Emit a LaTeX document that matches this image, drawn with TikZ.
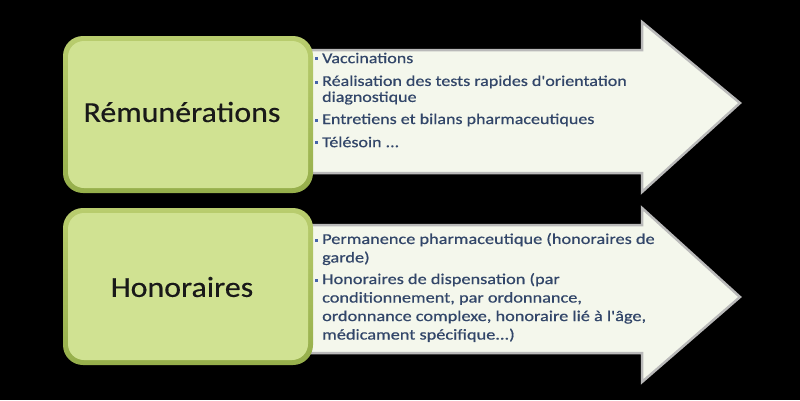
\documentclass[tikz,border=0pt]{standalone}
\usepackage{fontspec}
\setmainfont{Carlito}
\newfontfamily\itemfont[FakeStretch=1.2,FakeBold=0.6,Ligatures=TeXOff]{Carlito}
\newfontfamily\botfont[FakeStretch=1.22,FakeBold=0.6,Ligatures=TeXOff]{Carlito}
\newfontfamily\bigfont[FakeStretch=1.1,FakeBold=0.4]{Carlito}
\definecolor{boxfill}{RGB}{208,226,146}
\definecolor{boxedge}{RGB}{150,175,75}
\definecolor{boxlight}{RGB}{185,205,110}
\definecolor{arrfill}{RGB}{244,247,236}
\definecolor{arredge}{RGB}{185,185,185}
\definecolor{txt}{RGB}{50,70,105}
\definecolor{bul}{RGB}{70,100,170}
\begin{document}
\begin{tikzpicture}[x=1pt,y=-1pt,
  arrowshape/.style={fill=arrfill,draw=arredge,line width=2.5pt,line join=miter},
  outerbox/.style={top color=boxlight,bottom color=boxedge,rounded corners=20pt},
  innerbox/.style={fill=boxfill,rounded corners=16pt},
  boxtext/.style={inner sep=0pt,text=black!90,font=\bigfont\fontsize{29}{32}\selectfont},
  itemtop/.style={anchor=west,inner sep=0pt,align=left,text=txt,font=\itemfont\fontsize{15}{16}\selectfont},
  itembot/.style={anchor=west,inner sep=0pt,align=left,text=txt,font=\botfont\fontsize{15}{18.5}\selectfont},
  bullet/.style={fill=bul,minimum size=3pt,inner sep=0pt}]
\fill[black] (0,0) rectangle (800,400);
\useasboundingbox (0,0) rectangle (800,400);
% top arrow
\draw[arrowshape] (300,50) -- (642,50) -- (642,22) -- (740,103) -- (642,192) -- (642,173) -- (300,173) -- cycle;
% bottom arrow
\draw[arrowshape] (300,225) -- (642,225) -- (642,208) -- (740,297) -- (642,382) -- (642,353) -- (300,353) -- cycle;
% boxes
\shade[outerbox] (63,36) rectangle (313,193);
\fill[innerbox] (68,41) rectangle (308,188);
\shade[outerbox] (63,208) rectangle (313,365);
\fill[innerbox] (68,213) rectangle (308,360);
\node[boxtext] (rem) at (182,112) {Rémunérations};
\node[boxtext] (hon) at (182,287) {Honoraires};
% top items
\node[bullet] (b1) at (316,58) {};
\node[itemtop] (t1) at (322,58) {Vaccinations};
\node[bullet] (b2) at (316,82) {};
\node[itemtop] (t2) at (322,90) {Réalisation des tests rapides d'orientation\\diagnostique};
\node[bullet] (b3) at (316,120) {};
\node[itemtop] (t3) at (322,120) {Entretiens et bilans pharmaceutiques};
\node[bullet] (b4) at (316,142) {};
\node[itemtop] (t4) at (322,142) {Télésoin ...};
% bottom items
\node[bullet] (c1) at (316,240) {};
\node[itembot] (u1) at (322,249) {Permanence pharmaceutique (honoraires de\\garde)};
\node[bullet] (c2) at (316,280) {};
\node[itembot] (u2) at (322,307.5) {Honoraires de dispensation (par\\conditionnement, par ordonnance,\\ordonnance complexe, honoraire lié à l'âge,\\médicament spécifique...)};
\end{tikzpicture}
\end{document}
